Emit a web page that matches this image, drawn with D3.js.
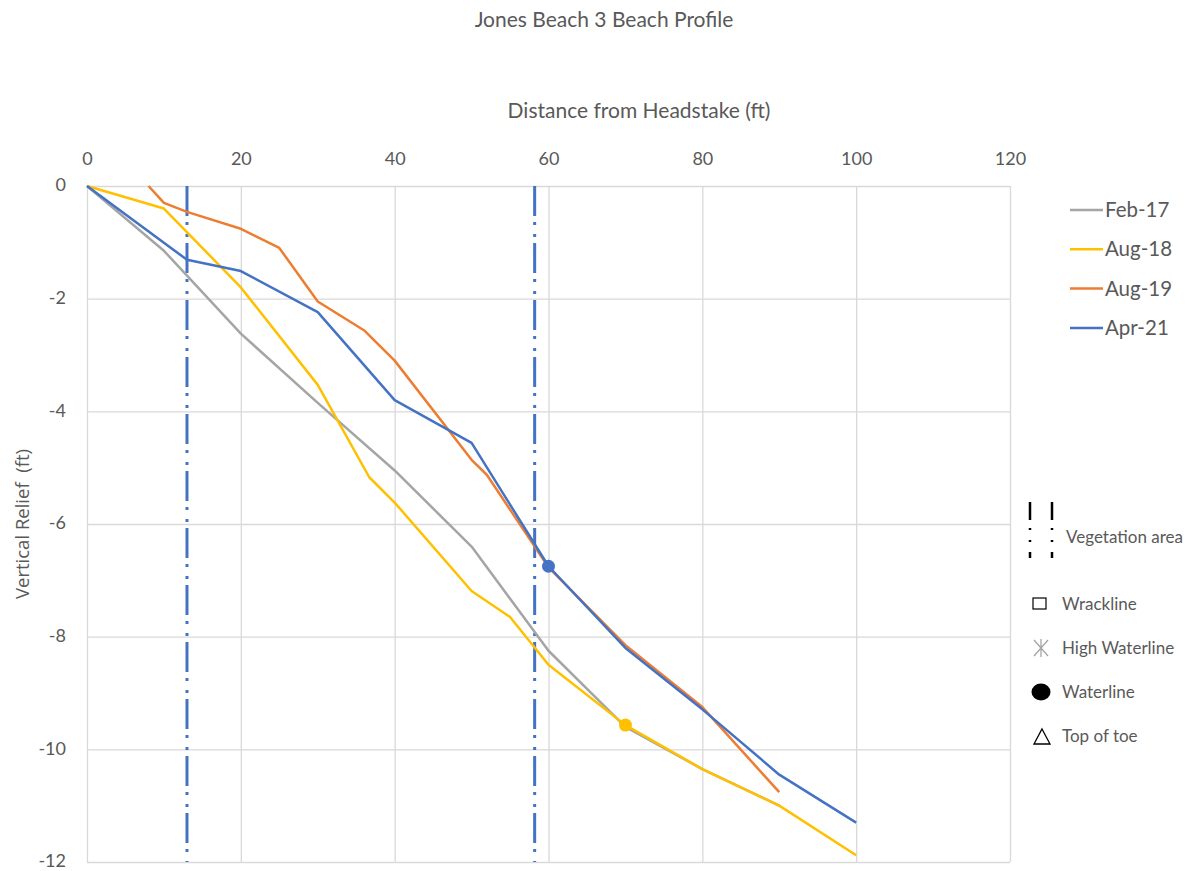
<!DOCTYPE html>
<html>
<head>
<meta charset="utf-8">
<script src="https://cdn.jsdelivr.net/npm/d3@7"></script>
<style>
  body { margin: 0; background: #fff; }
  text { font-family: Lato, "Open Sans", sans-serif; fill: #595959; }
</style>
</head>
<body>
<div id="chart"></div>
<script>
// =============================================================
// DATA

let series_names  = [ 'Feb-17', 'Aug-18', 'Aug-19', 'Apr-21' ];
let series_colors = [ '#A5A5A5', '#FFC000', '#ED7D31', '#4472C4' ];

let feb17_x = [ 0, 10, 20, 30, 40, 50, 60, 70, 80, 90 ];
let feb17_y = [ 0, -1.15, -2.62, -3.85, -5.05, -6.4, -8.25, -9.6, -10.35, -11.0 ];

let aug18_x = [ 0, 10, 20, 30, 36.7, 40, 50, 55, 60, 70, 80, 90, 100 ];
let aug18_y = [ 0, -0.4, -1.8, -3.53, -5.17, -5.62, -7.19, -7.65, -8.5, -9.57, -10.35, -11.0, -11.88 ];

let aug19_x = [ 8, 10, 13, 20, 25, 30, 36, 40, 50, 52, 60, 70, 80, 90 ];
let aug19_y = [ 0, -0.3, -0.46, -0.76, -1.1, -2.05, -2.56, -3.1, -4.86, -5.13, -6.77, -8.15, -9.25, -10.76 ];

let apr21_x = [ 0, 13, 20, 30, 40, 50, 60, 70, 80, 90, 100 ];
let apr21_y = [ 0, -1.31, -1.51, -2.24, -3.8, -4.56, -6.75, -8.2, -9.29, -10.45, -11.3 ];

// waterline markers: [x, y, series index]
let waterline_x = [ 60, 70 ];
let waterline_y = [ -6.75, -9.57 ];
let waterline_s = [ 3, 1 ];

// vegetation area bounds
let veg_x = [ 13, 58.2 ];

let x_ticks = [ 0, 20, 40, 60, 80, 100, 120 ];
let y_ticks = [ 0, -2, -4, -6, -8, -10, -12 ];

let marker_legend = [ 'Wrackline', 'High Waterline', 'Waterline', 'Top of toe' ];

// =============================================================
// SETUP

let width = 1185, height = 871;
let plot_left = 87, plot_right = 1010, plot_top = 186, plot_bottom = 862;
let dash_pattern = '30,6,3,9,3,6';

let svg = d3.select('#chart')
            .append('svg')
            .attr('width', width)
            .attr('height', height);

let x_scale = d3.scaleLinear().domain([0, 120]).range([plot_left, plot_right]);
let y_scale = d3.scaleLinear().domain([0, -12]).range([plot_top, plot_bottom]);

// titles
svg.append('text')
   .attr('x', 604).attr('y', 27)
   .attr('text-anchor', 'middle')
   .attr('font-size', 21)
   .text('Jones Beach 3 Beach Profile');

svg.append('text')
   .attr('x', 639).attr('y', 118)
   .attr('text-anchor', 'middle')
   .attr('font-size', 21)
   .text('Distance from Headstake (ft)');

svg.append('text')
   .attr('transform', 'translate(29, 524) rotate(-90)')
   .attr('text-anchor', 'middle')
   .attr('font-size', 18.5)
   .style('font-family', '"Open Sans", sans-serif')
   .style('white-space', 'pre')
   .text('Vertical Relief  (ft)');

// gridlines
let x_grid = d3.axisTop(x_scale).tickValues(x_ticks).tickSize(-(plot_bottom - plot_top)).tickFormat('');
svg.append('g')
   .attr('transform', 'translate(0,' + plot_top + ')')
   .call(x_grid)
   .call(g => g.select('.domain').remove())
   .selectAll('line').attr('stroke', '#d9d9d9').attr('stroke-width', 1.3);

let y_grid = d3.axisLeft(y_scale).tickValues(y_ticks).tickSize(-(plot_right - plot_left)).tickFormat('');
svg.append('g')
   .attr('transform', 'translate(' + plot_left + ',0)')
   .call(y_grid)
   .call(g => g.select('.domain').remove())
   .selectAll('line').attr('stroke', '#d9d9d9').attr('stroke-width', 1.3);

// axes labels
let x_axis = d3.axisTop(x_scale).tickValues(x_ticks).tickSize(0).tickPadding(0)
               .tickFormat(d => String(d));
svg.append('g')
   .attr('transform', 'translate(0,' + (plot_top - 21) + ')')
   .call(x_axis)
   .call(g => g.select('.domain').remove())
   .selectAll('text')
   .attr('font-size', 18)
   .attr('fill', '#595959')
   .style('font-family', 'Lato, sans-serif');

let y_axis = d3.axisLeft(y_scale).tickValues(y_ticks).tickSize(0).tickPadding(0)
               .tickFormat(d => String(d));
svg.append('g')
   .attr('transform', 'translate(' + (plot_left - 21) + ',-1)')
   .call(y_axis)
   .call(g => g.select('.domain').remove())
   .selectAll('text')
   .attr('font-size', 18)
   .attr('fill', '#595959')
   .style('font-family', 'Lato, sans-serif');

// vegetation lines
svg.selectAll('.veg')
   .data(veg_x)
   .enter()
   .append('line')
   .attr('class', 'veg')
   .attr('x1', d => x_scale(d)).attr('x2', d => x_scale(d))
   .attr('y1', plot_top).attr('y2', plot_bottom)
   .attr('stroke', '#4472C4')
   .attr('stroke-width', 3)
   .attr('stroke-dasharray', dash_pattern);

// series lines
let all_x = [ feb17_x, aug18_x, aug19_x, apr21_x ];
let all_y = [ feb17_y, aug18_y, aug19_y, apr21_y ];

let line = d3.line()
             .x(d => x_scale(d[0]))
             .y(d => y_scale(d[1]));

for (let i = 0; i < series_names.length; i++) {
    let pts = d3.zip(all_x[i], all_y[i]);
    svg.append('path')
       .datum(pts)
       .attr('fill', 'none')
       .attr('stroke', series_colors[i])
       .attr('stroke-width', 2.5)
       .attr('stroke-linejoin', 'round')
       .attr('d', line);
}

// waterline markers
svg.selectAll('.wl')
   .data(d3.range(waterline_x.length))
   .enter()
   .append('circle')
   .attr('cx', i => x_scale(waterline_x[i]))
   .attr('cy', i => y_scale(waterline_y[i]))
   .attr('r', 6.5)
   .attr('fill', i => series_colors[waterline_s[i]]);

// series legend
let legend = svg.append('g');
series_names.forEach(function (name, i) {
    let y = 210 + i * 39.3;
    legend.append('line')
          .attr('x1', 1070).attr('x2', 1103)
          .attr('y1', y).attr('y2', y)
          .attr('stroke', series_colors[i])
          .attr('stroke-width', 2.5);
    legend.append('text')
          .attr('x', 1105).attr('y', y + 7)
          .attr('font-size', 20.5)
          .text(name);
});

// marker legend
let mk = svg.append('g');
[1030, 1052].forEach(function (x) {
    mk.append('line')
      .attr('x1', x).attr('x2', x)
      .attr('y1', 502).attr('y2', 566)
      .attr('stroke', '#000')
      .attr('stroke-width', 2.5)
      .attr('stroke-dasharray', '18,8,2,10,2,10,6');
});
mk.append('text').attr('x', 1066).attr('y', 543).attr('font-size', 17).attr('fill', '#000').text('Vegetation area');

mk.append('rect')
  .attr('x', 1033).attr('y', 598).attr('width', 13).attr('height', 11)
  .attr('fill', 'none').attr('stroke', '#000').attr('stroke-width', 1.2);

// high waterline asterisk
let ax = 1041, ay = 648;
mk.append('path')
  .attr('d', `M${ax},${ay - 9}L${ax},${ay + 9}M${ax - 7},${ay - 8}L${ax + 7},${ay + 8}M${ax + 7},${ay - 8}L${ax - 7},${ay + 8}`)
  .attr('stroke', '#A5A5A5').attr('stroke-width', 1.3).attr('fill', 'none');

mk.append('ellipse')
  .attr('cx', 1041).attr('cy', 692).attr('rx', 9.5).attr('ry', 8.5)
  .attr('fill', '#000');

mk.append('path')
  .attr('d', 'M1042,729L1050,744L1034,744Z')
  .attr('fill', 'none').attr('stroke', '#000').attr('stroke-width', 1.3);

let mk_y = [ 610, 654, 698, 742 ];
marker_legend.forEach(function (name, i) {
    mk.append('text')
      .attr('x', 1062).attr('y', mk_y[i])
      .attr('font-size', 17)
      .attr('fill', '#000')
      .text(name);
});
</script>
</body>
</html>
